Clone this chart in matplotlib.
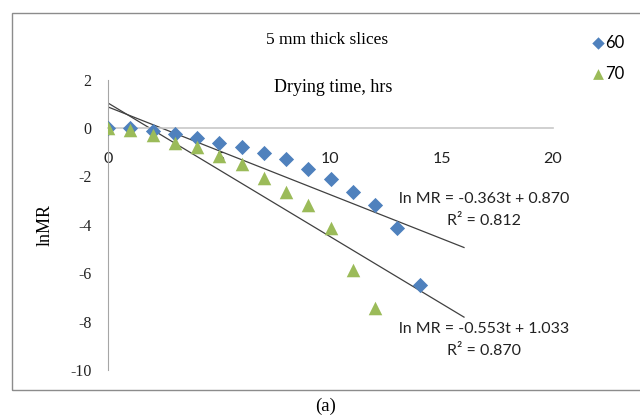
import numpy as np
import matplotlib; matplotlib.use('Agg')
import matplotlib.pyplot as plt
from matplotlib.patches import Rectangle

# Data
time_60 = [0, 1, 2, 3, 4, 5, 6, 7, 8, 9, 10, 11, 12, 13, 14]
lnmr_60 = [0.0, -0.02, -0.12, -0.23, -0.40, -0.60, -0.78, -1.05, -1.27, -1.70, -2.12, -2.66, -3.20, -4.12, -6.47]
time_70 = [0, 1, 2, 3, 4, 5, 6, 7, 8, 9, 10, 11, 12]
lnmr_70 = [0.0, -0.08, -0.30, -0.64, -0.78, -1.15, -1.50, -2.08, -2.64, -3.20, -4.15, -5.85, -7.45]

# trendlines (from the equations on the chart)
series_names = ['60', '70']
slopes = [-0.363, -0.553]
intercepts = [0.870, 1.033]
r_squared = [0.812, 0.870]
trend_end = 16

x_ticks = [0, 5, 10, 15, 20]
y_ticks = [2, 0, -2, -4, -6, -8, -10]

blue = '#4F81BD'
green = '#9BBB59'
serif = 'Liberation Serif'
sans = 'Lato'

fig = plt.figure(figsize=(6.4, 4.18), dpi=100)
# outer chart border
fig.patches.append(Rectangle((12 / 640, 1 - 390 / 418), 640, (390 - 13) / 418,
                             transform=fig.transFigure, fill=False,
                             edgecolor='#8c8c8c', linewidth=1.0))

ax = fig.add_axes([108 / 640, 1 - 370 / 418, (553 - 108) / 640, (370 - 79.6) / 418])
ax.set_xlim(0, 20)
ax.set_ylim(-10, 2)
ax.patch.set_alpha(0)

for s in ['top', 'right']:
    ax.spines[s].set_visible(False)
ax.spines['left'].set_color('#a6a6a6')
ax.spines['bottom'].set_position(('data', 0))
ax.spines['bottom'].set_color('#c8c8c8')
ax.spines['bottom'].set_linewidth(1.2)

ax.set_xticks(x_ticks)
ax.set_xticklabels([str(t) for t in x_ticks], fontfamily=sans, fontsize=11.5)
ax.set_yticks(y_ticks)
ax.set_yticklabels([str(t) for t in y_ticks], fontfamily=serif, fontsize=11.5)
ax.tick_params(axis='x', length=0, pad=17, colors='#222222')
ax.tick_params(axis='y', length=0, pad=12, colors='#222222')

# trendlines
t = np.array([0, trend_end])
for m, b in zip(slopes, intercepts):
    ax.plot(t, m * t + b, color='#404040', linewidth=0.9, zorder=2)

# points
ax.scatter(time_60, lnmr_60, marker='D', s=60, color=blue, zorder=3, linewidths=0)
ax.scatter(time_70, lnmr_70, marker='^', s=95, color=green, zorder=3, linewidths=0)

# equations
eq_pos = [(484, 199), (484, 329)]
for (px, py), m, b, r2 in zip(eq_pos, slopes, intercepts, r_squared):
    fig.text(px / 640, 1 - py / 418, f'ln MR = {m:.3f}t + {b:.3f}', ha='center', va='center',
             fontfamily=sans, fontsize=11.5, color='#222222')
    fig.text(px / 640, 1 - (py + 22) / 418, f'R² = {r2:.3f}', ha='center', va='center',
             fontfamily=sans, fontsize=11.5, color='#222222')

# titles
fig.text(327 / 640, 1 - 40 / 418, '5 mm thick slices', ha='center', va='center',
         fontfamily=serif, fontsize=12.5)
fig.text(333 / 640, 1 - 88 / 418, 'Drying time, hrs', ha='center', va='center',
         fontfamily=serif, fontsize=13)
fig.text(45 / 640, 1 - 225 / 418, 'lnMR', ha='center', va='center', rotation=90,
         fontfamily=serif, fontsize=13)
fig.text(326 / 640, 1 - 406 / 418, '(a)', ha='center', va='center',
         fontfamily=serif, fontsize=13.5)

# legend in pixel coords on an overlay axes
leg_ax = fig.add_axes([0, 0, 1, 1])
leg_ax.set_xlim(0, 640)
leg_ax.set_ylim(418, 0)
leg_ax.axis('off')
leg_ax.scatter([598], [43], marker='D', s=40, color=blue, linewidths=0)
leg_ax.scatter([598], [74], marker='^', s=60, color=green, linewidths=0)
leg_ax.text(605, 43, series_names[0], va='center', fontfamily=sans, fontsize=12)
leg_ax.text(605, 74, series_names[1], va='center', fontfamily=sans, fontsize=12)

fig.savefig('out.png', dpi=100)
